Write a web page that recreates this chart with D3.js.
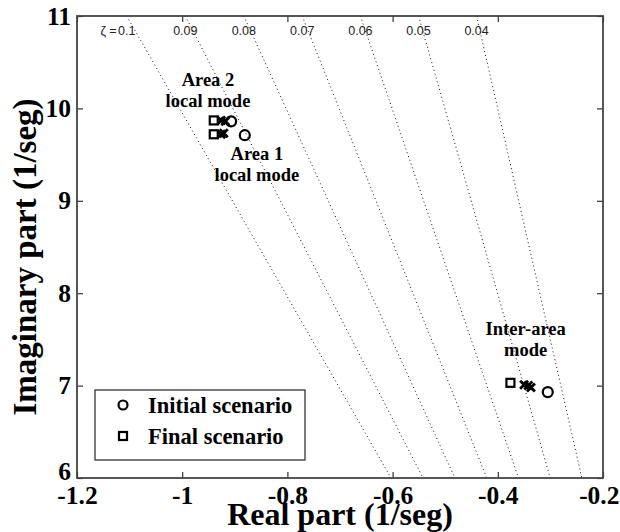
<!DOCTYPE html>
<html>
<head>
<meta charset="utf-8">
<script src="https://cdn.jsdelivr.net/npm/d3@7"></script>
<style>
  html, body { margin: 0; padding: 0; background: #fff; }
  svg { display: block; }
</style>
</head>
<body>
<svg id="chart" width="620" height="532"></svg>
<script>
// Eigenvalue locations (real, imaginary) for each mode and scenario
const initialScenario = [
  [-0.907, 9.86],   // Area 2 local mode
  [-0.881, 9.71],   // Area 1 local mode
  [-0.305, 6.93]    // Inter-area mode
];
const finalScenario = [
  [-0.940, 9.87],
  [-0.940, 9.72],
  [-0.376, 7.03]
];
const intermediate = [
  [-0.926, 9.87], [-0.918, 9.86],
  [-0.926, 9.72], [-0.921, 9.73],
  [-0.350, 7.01], [-0.342, 7.00], [-0.337, 6.98]
];
const dampingRatios = [0.1, 0.09, 0.08, 0.07, 0.06, 0.05, 0.04];
const xTickValues = [-1.2, -1, -0.8, -0.6, -0.4, -0.2];
const yTickValues = [6, 7, 8, 9, 10, 11];
const modeLabels = [
  { lines: ["Area 2", "local mode"], at: [-0.951, 10.24] },
  { lines: ["Area 1", "local mode"], at: [-0.858, 9.44] },
  { lines: ["Inter-area", "mode"], at: [-0.347, 7.55] }
];

const svg = d3.select("#chart");
const x = d3.scaleLinear().domain([-1.2, -0.2]).range([77, 603]);
const y = d3.scaleLinear().domain([6, 11]).range([478, 16]);
const serif = "'Liberation Serif', 'Times New Roman', serif";
const fmt = d => String(d);

svg.append("defs").append("clipPath").attr("id", "plotClip")
  .append("rect").attr("x", 77).attr("y", 16).attr("width", 526).attr("height", 462);

// constant damping-ratio lines: Im = |Re| * sqrt(1 - z^2) / z
const zGroup = svg.append("g").attr("clip-path", "url(#plotClip)");
dampingRatios.forEach(z => {
  const k = Math.sqrt(1 - z * z) / z;
  zGroup.append("line")
    .attr("x1", x(-11 / k)).attr("y1", y(11))
    .attr("x2", x(-6 / k)).attr("y2", y(6))
    .attr("stroke", "#111").attr("stroke-width", 1)
    .attr("stroke-dasharray", "1 3");
});
const zLabels = svg.append("g")
  .attr("font-family", "'Liberation Sans', Arial, sans-serif")
  .attr("font-size", 12.5).attr("fill", "#222");
dampingRatios.forEach(z => {
  const k = Math.sqrt(1 - z * z) / z;
  zLabels.append("text")
    .attr("x", x(-11 / k)).attr("y", 35)
    .attr("text-anchor", "middle").text(String(z));
});
zLabels.append("text")
  .attr("x", x(-11 / (Math.sqrt(1 - 0.01) / 0.1)) - 10).attr("y", 35)
  .attr("text-anchor", "end").text("ζ =");

// axes with inward ticks on all four sides
const axisStyle = g => {
  g.select(".domain").remove();
  g.selectAll(".tick line").attr("stroke", "#333").attr("stroke-width", 1.2);
  g.selectAll(".tick text").attr("font-family", serif).attr("font-weight", "bold")
    .attr("font-size", 25.5).attr("fill", "#000");
};
const xAxisG = svg.append("g").attr("transform", "translate(0,478)")
  .call(d3.axisBottom(x).tickValues(xTickValues).tickFormat(fmt).tickSizeInner(-6).tickPadding(8))
  .call(axisStyle);
// keep the last label inside the canvas edge
xAxisG.selectAll(".tick text").filter(d => d === -0.2)
  .attr("text-anchor", "end").attr("x", 619 - x(-0.2));
svg.append("g").attr("transform", "translate(0,16)")
  .call(d3.axisTop(x).tickValues(xTickValues).tickFormat("").tickSizeInner(-6))
  .call(axisStyle);
const yAxisG = svg.append("g").attr("transform", "translate(77,0)")
  .call(d3.axisLeft(y).tickValues(yTickValues).tickFormat(fmt).tickSizeInner(-6).tickPadding(6))
  .call(axisStyle);
yAxisG.selectAll(".tick text").filter(d => d === 6).attr("dy", "0.05em");
svg.append("g").attr("transform", "translate(603,0)")
  .call(d3.axisRight(y).tickValues(yTickValues).tickFormat("").tickSizeInner(-6))
  .call(axisStyle);
svg.append("rect").attr("x", 77).attr("y", 16).attr("width", 526).attr("height", 462)
  .attr("fill", "none").attr("stroke", "#444").attr("stroke-width", 1.8);

// markers
const marks = svg.append("g");
marks.selectAll("path.x").data(intermediate).join("path")
  .attr("transform", d => `translate(${x(d[0])},${y(d[1])})`)
  .attr("d", "M-4,-4L4,4M-4,4L4,-4")
  .attr("stroke", "#000").attr("stroke-width", 2.8).attr("fill", "none");
marks.selectAll("rect.fin").data(finalScenario).join("rect")
  .attr("x", d => x(d[0]) - 4).attr("y", d => y(d[1]) - 4)
  .attr("width", 8).attr("height", 8)
  .attr("fill", "#fff").attr("stroke", "#000").attr("stroke-width", 2.2);
marks.selectAll("circle.ini").data(initialScenario).join("circle")
  .attr("cx", d => x(d[0])).attr("cy", d => y(d[1])).attr("r", 5)
  .attr("fill", "none").attr("stroke", "#000").attr("stroke-width", 2.2);

// mode annotations
const notes = svg.append("g").attr("font-family", serif).attr("font-weight", "bold")
  .attr("font-size", 18.5).attr("text-anchor", "middle");
modeLabels.forEach(m => {
  m.lines.forEach((t, i) => {
    notes.append("text").attr("x", x(m.at[0])).attr("y", y(m.at[1]) + i * 21).text(t);
  });
});

// legend
const lg = svg.append("g");
lg.append("rect").attr("x", 95).attr("y", 390).attr("width", 210).attr("height", 70)
  .attr("fill", "#fff").attr("stroke", "#333").attr("stroke-width", 1.3);
lg.append("circle").attr("cx", 123).attr("cy", 405).attr("r", 4.5)
  .attr("fill", "none").attr("stroke", "#000").attr("stroke-width", 2.2);
lg.append("rect").attr("x", 119).attr("y", 432).attr("width", 8).attr("height", 8)
  .attr("fill", "none").attr("stroke", "#000").attr("stroke-width", 2.2);
lg.append("text").attr("x", 148).attr("y", 413).attr("font-family", serif)
  .attr("font-weight", "bold").attr("font-size", 22.5).text("Initial scenario");
lg.append("text").attr("x", 148).attr("y", 444).attr("font-family", serif)
  .attr("font-weight", "bold").attr("font-size", 22.5).text("Final scenario");

// axis titles
svg.append("text").attr("x", 340).attr("y", 525).attr("text-anchor", "middle")
  .attr("font-family", serif).attr("font-weight", "bold").attr("font-size", 32)
  .text("Real part (1/seg)");
svg.append("text").attr("transform", "translate(36,257) rotate(-90)").attr("text-anchor", "middle")
  .attr("font-family", serif).attr("font-weight", "bold").attr("font-size", 33)
  .text("Imaginary part (1/seg)");
</script>
</body>
</html>
